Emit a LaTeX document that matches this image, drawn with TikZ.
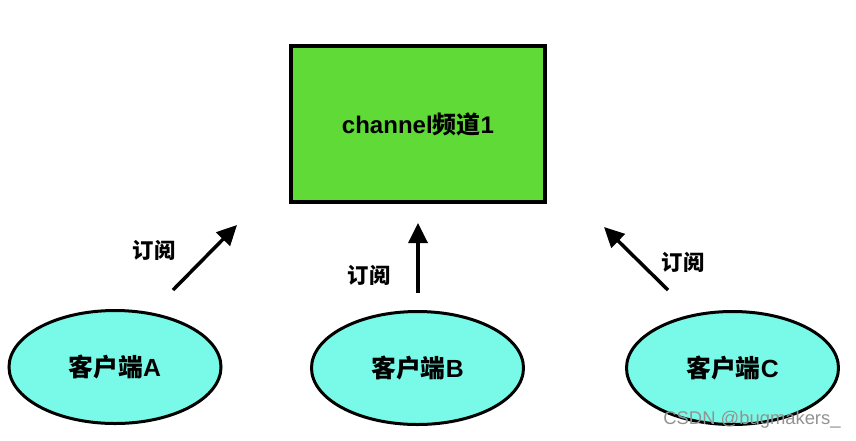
\documentclass[tikz,border=0pt]{standalone}
\usepackage{fontspec}
\setmainfont{Liberation Sans}
\newfontfamily\cjk{Noto Sans CJK SC}
\usetikzlibrary{shapes.geometric,arrows.meta}
\newlength{\unitpx}
\setlength{\unitpx}{0.75pt}
\definecolor{chgreen}{HTML}{5FDA37}
\definecolor{clcyan}{HTML}{79FAE8}
\definecolor{wmgray}{HTML}{929292}
\tikzset{
  channelbox/.style={draw=black, fill=chgreen, line width=4\unitpx,
    minimum width=254\unitpx, minimum height=156\unitpx, inner sep=0pt,
    font=\fontsize{18pt}{20pt}\selectfont\bfseries},
  client/.style={ellipse, draw=black, fill=clcyan, line width=3\unitpx,
    minimum width=212\unitpx, minimum height=113\unitpx, inner sep=0pt,
    font=\fontsize{18.6pt}{20pt}\selectfont\bfseries},
  sublabel/.style={inner sep=0pt, font=\fontsize{16pt}{17pt}\selectfont\cjk\bfseries},
  subarrow/.style={line width=3.5\unitpx,
    -{Triangle[length=15pt,width=14.25pt]}},
  watermark/.style={inner sep=0pt, text=wmgray, font=\fontsize{13.8pt}{15pt}\selectfont}
}
\begin{document}
\begin{tikzpicture}[x=\unitpx,y=-\unitpx]
\useasboundingbox (0,0) rectangle (856,440);

% subscription channel
\node[channelbox] (chan) at (418,124) {channel{\cjk 频道}1};

% clients
\node[client] (ca) at (115,367) {{\cjk 客户端}A};
\node[client] (cb) at (417.5,368) {{\cjk 客户端}B};
\node[client] (cc) at (732.5,368) {{\cjk 客户端}C};

% arrow end points
\coordinate (ta) at (173,290);
\coordinate (ha) at (237,225);
\coordinate (tb) at (418,293);
\coordinate (hb) at (418,223);
\coordinate (tc) at (668,290);
\coordinate (hc) at (604,227);

\draw[subarrow] (ta) -- (ha);
\draw[subarrow] (tb) -- (hb);
\draw[subarrow] (tc) -- (hc);

% labels
\node[sublabel] (la) at (154,250) {订阅};
\node[sublabel] (lb) at (369,275) {订阅};
\node[sublabel] (lc) at (683,262) {订阅};

\node[watermark] (wm) at (752,420) {CSDN @bugmakers\_};
\end{tikzpicture}
\end{document}
